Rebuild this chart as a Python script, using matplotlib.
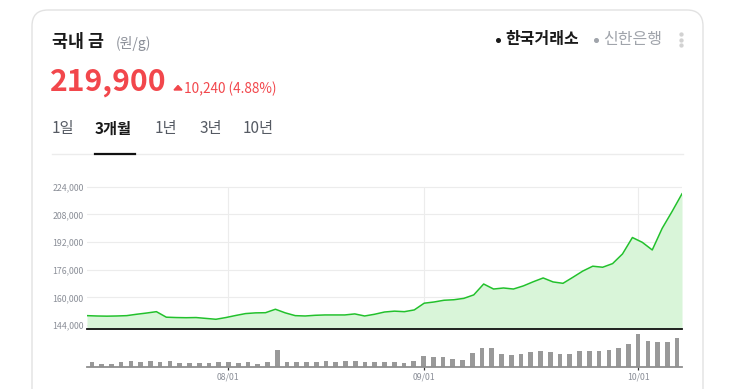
import matplotlib as mpl
mpl.use('Agg')
import matplotlib.pyplot as plt
from matplotlib.patches import FancyBboxPatch, Polygon

plt.rcParams['font.family'] = ['Noto Sans CJK KR', 'DejaVu Sans']

# data: 61 trading days, 07/14 .. 10/14
prices = [149400, 149200, 149100, 149200, 149400, 150200, 150900, 151700, 148500, 148300,
          148200, 148300, 147800, 147300, 148300, 149500, 150600, 151000, 151100, 153100,
          151000, 149400, 149200, 149600, 149800, 149800, 149800, 150400, 149200, 150200,
          151500, 152000, 151700, 152700, 156600, 157300, 158300, 158600, 159400, 161400,
          167700, 164800, 165400, 164800, 166600, 169000, 171200, 168900, 168100, 171600,
          175200, 178000, 177400, 179500, 185100, 194600, 191800, 187400, 199900, 209660,
          219900]
volumes = [43, 30, 30, 50, 57, 47, 57, 47, 53, 37,
           37, 37, 37, 50, 47, 37, 43, 23, 43, 167,
           52, 45, 48, 52, 60, 52, 60, 62, 48, 45,
           50, 47, 37, 53, 103, 97, 93, 73, 63, 133,
           183, 183, 127, 117, 127, 147, 153, 143, 127, 127,
           153, 153, 153, 163, 187, 227, 327, 257, 247, 247,
           283]
tick_idx = [14, 34, 56]
tick_labels = ['08/01', '09/01', '10/01']
y_ticks = [144000, 160000, 176000, 192000, 208000, 224000]

W, H = 737, 389
fig = plt.figure(figsize=(W / 100, H / 100), dpi=100)

# overlay in pixel coordinates for card + header
bg = fig.add_axes([0, 0, 1, 1])
bg.set_xlim(0, W)
bg.set_ylim(H, 0)
bg.axis('off')

card = FancyBboxPatch((32, 10), 671, 420, boxstyle='round,pad=0,rounding_size=16',
                      facecolor='white', edgecolor='#e2e2e2', linewidth=1)
bg.add_patch(card)

red = '#f2474c'
gray = '#8b8f98'
bg.text(52, 42, '국내 금', fontsize=12.5, fontweight='bold', color='#1a1a1a', va='center')
bg.text(116, 43.5, '(원/g)', fontsize=10, color=gray, va='center')
bg.text(50, 82, '219,900', fontsize=21.7, fontweight='bold', color=red, va='center')
bg.add_patch(Polygon([(174, 90), (182, 90), (178, 85.5)], closed=True, color=red))
bg.text(184, 88.5, '10,240 (4.88%)', fontsize=9.8, color=red, va='center')

tabs = [('1일', 52, False), ('3개월', 95, True), ('1년', 155, False),
        ('3년', 200, False), ('10년', 243, False)]
for label, x, active in tabs:
    bg.text(x, 129, label, fontsize=11, color='#1a1a1a' if active else '#555a63',
            fontweight='bold' if active else 'normal', va='center')
bg.plot([52, 683], [153.5, 153.5], color='#ececec', lw=1)
bg.plot([95, 135], [153.5, 153.5], color='#111111', lw=1.6)

bg.plot(498.5, 40, 'o', ms=2.6, color='#1a1a1a')
bg.text(505, 39, '한국거래소', fontsize=11.5, fontweight='bold', color='#1a1a1a', va='center')
bg.plot(596.5, 40, 'o', ms=2.6, color='#a0a4ab')
bg.text(603, 39, '신한은행', fontsize=11.5, color='#a0a4ab', va='center')
for yy in (34, 39.5, 45):
    bg.plot(681, yy, 'o', ms=2.1, color='#d2d2d2')

# price chart
n = len(prices)
x_line = [-0.5 + i * n / (n - 1) for i in range(n)]
ybot = 141500
ax = fig.add_axes([87 / W, (H - 329.3) / H, 595 / W, (329.3 - 186.0) / H])
ax.patch.set_alpha(0)
ax.set_xlim(-0.5, n - 0.5)
ax.set_ylim(ybot, 224400)
ax.fill_between(x_line, prices, ybot, color='#d9f5d9', lw=0)
ax.plot(x_line, prices, color='#22c12c', lw=1.1)
ax.vlines(tick_idx, 144000, 224000, color='#ececec', lw=0.8, zorder=0)
ax.set_yticks(y_ticks)
ax.set_yticklabels([f'{v:,}' for v in y_ticks])
ax.grid(axis='y', color='#ececec', lw=0.8, zorder=0)
ax.set_axisbelow(True)
ax.tick_params(axis='y', length=0, pad=2.5, labelsize=6.3, labelcolor=gray)
ax.set_xticks([])
for s in ('top', 'right', 'left'):
    ax.spines[s].set_visible(False)
ax.spines['bottom'].set_color('#111111')
ax.spines['bottom'].set_linewidth(1.3)

# volume bars
bx = fig.add_axes([87 / W, (H - 366.7) / H, 595 / W, (366.7 - 332) / H])
bx.patch.set_alpha(0)
bx.bar(range(n), volumes, width=0.48, color='#999999')
bx.set_xlim(-0.5, n - 0.5)
bx.set_ylim(0, 347)
bx.set_yticks([])
bx.set_xticks(tick_idx)
bx.set_xticklabels(tick_labels)
bx.tick_params(axis='x', length=2.5, width=0.9, color='#333333', pad=1.5,
               labelsize=6.3, labelcolor=gray)
for s in ('top', 'right', 'left'):
    bx.spines[s].set_visible(False)
bx.spines['bottom'].set_color('#8f8f8f')
bx.spines['bottom'].set_linewidth(1.3)

fig.savefig('out.png', dpi=100)
